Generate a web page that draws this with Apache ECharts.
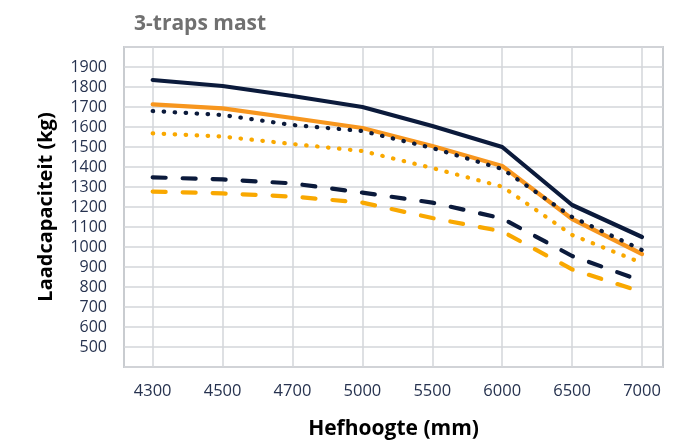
<!DOCTYPE html>
<html><head><meta charset="utf-8">
<script src="https://cdn.jsdelivr.net/npm/echarts@6/dist/echarts.min.js"></script>
<style>html,body{margin:0;padding:0;background:#fff}#c{width:690px;height:444px}</style>
</head><body><div id="c"></div>
<script>
const categories = ['4300','4500','4700','5000','5500','6000','6500','7000'];
const navySolid   = [1835, 1805, 1755, 1700, 1605, 1500, 1210, 1050];
const orangeSolid = [1713, 1693, 1645, 1595, 1505, 1405, 1140, 965];
const navyDotted  = [1680, 1660, 1610, 1580, 1495, 1390, 1150, 985];
const orangeDotted= [1568, 1552, 1515, 1480, 1395, 1302, 1060, 920];
const navyDashed  = [1348, 1338, 1318, 1272, 1222, 1143, 955, 830];
const orangeDashed= [1277, 1268, 1252, 1222, 1145, 1078, 888, 775];
const yTicks = [500,600,700,800,900,1000,1100,1200,1300,1400,1500,1600,1700,1800,1900];

const NAVY = '#0b1a3b', ORANGE = '#f7961e', YELLOW = '#f9a800';
const font = '"Open Sans", "Noto Sans", sans-serif';
function pts(arr){ return arr.map((v,i)=>[i,v]); }
function line(name, arr, color, type){
  return { name, type:'line', data: pts(arr), symbol:'none', silent:true,
    lineStyle:{ color, width:4.2, type, cap:'round', join:'round' } };
}
const chart = echarts.init(document.getElementById('c'), null, {renderer:'canvas'});
chart.setOption({
  animation:false,
  title:{ text:'3-traps mast', left:129, top:9,
    textStyle:{ color:'#707070', fontSize:21, fontWeight:'bold', fontFamily:font } },
  grid:{ left:124, right:27, top:47, bottom:77, show:true, borderColor:'#c9ccd0', borderWidth:2,
    outerBoundsMode:'none', containLabel:false },
  xAxis:{ type:'value', min:-0.41, max:7.3,
    name:'Hefhoogte (mm)', nameLocation:'middle', nameGap:52, nameMoveOverlap:false,
    nameTextStyle:{ color:'#000', fontSize:21, fontWeight:'bold', fontFamily:font },
    axisLine:{show:false}, axisTick:{show:false, customValues:categories.map((c,i)=>i)},
    axisLabel:{ customValues:categories.map((c,i)=>i), formatter:v=>categories[Math.round(v)],
      color:'#26324f', fontSize:16.5, fontFamily:font, margin:16 },
    splitLine:{ show:true, lineStyle:{ color:'#d3d6da', width:1.5 } } },
  yAxis:{ type:'value', min:400, max:2000, interval:100,
    name:'Laadcapaciteit (kg)', nameLocation:'middle', nameGap:68, nameRotate:90, nameMoveOverlap:false,
    nameTextStyle:{ color:'#000', fontSize:20, fontWeight:'bold', fontFamily:font },
    axisLine:{show:false}, axisTick:{show:false},
    axisLabel:{ formatter:v=> yTicks.includes(v) ? String(v) : '', color:'#26324f', fontSize:16, fontFamily:font, margin:17 },
    splitLine:{ show:true, lineStyle:{ color:'#d3d6da', width:1.5 } } },
  series:[
    line('Orange gestreept', orangeDashed, YELLOW, [13,17]),
    line('Navy gestreept', navyDashed, NAVY, [13,17]),
    line('Orange gestippeld', orangeDotted, YELLOW, [0.5,10.5]),
    line('Orange', orangeSolid, ORANGE, 'solid'),
    line('Navy gestippeld', navyDotted, NAVY, [0.5,10.5]),
    line('Navy', navySolid, NAVY, 'solid')
  ]
});
</script></body></html>
